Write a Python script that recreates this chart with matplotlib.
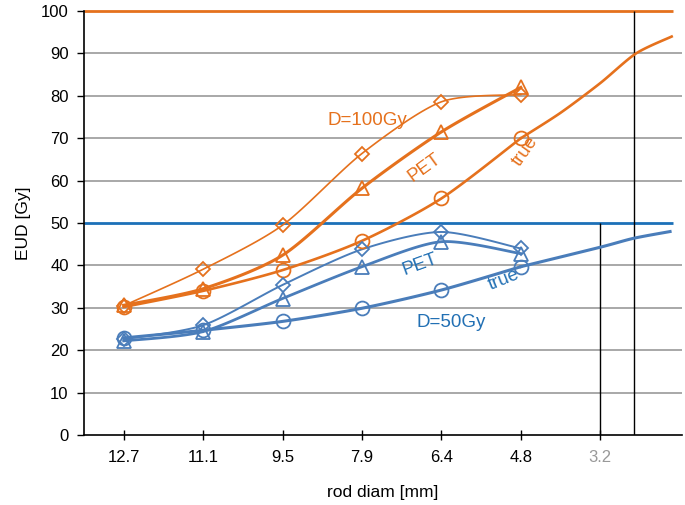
import numpy as np
import matplotlib
matplotlib.use("Agg")
import matplotlib.pyplot as plt

plt.rcParams['font.family'] = ['Liberation Sans', 'DejaVu Sans']

# rod diameters (categories on the x axis)
rods = ["12.7", "11.1", "9.5", "7.9", "6.4", "4.8", "3.2"]
pos = np.arange(6)

# D=100Gy
hi_diamond = [30.5, 39.1, 49.5, 66.4, 78.6, 80.3]
hi_pet = [30.6, 34.5, 42.4, 58.2, 71.5, 82.0]
hi_true = [30.2, 34.0, 38.9, 45.8, 55.8, 70.0]
hi_true_ext_x = [5, 5.5, 6, 6.45, 6.9]
hi_true_ext_y = [70.0, 76.0, 83.0, 90.0, 94.0]

# D=50Gy
lo_diamond = [22.6, 25.9, 35.4, 43.8, 47.9, 44.0]
lo_pet = [22.2, 24.4, 32.2, 39.7, 45.6, 42.8]
lo_true = [22.9, 24.7, 26.8, 29.9, 34.2, 39.7]
lo_true_ext_x = [5, 6, 6.42, 6.88]
lo_true_ext_y = [39.7, 44.3, 46.4, 48.0]

ORANGE = '#E5711D'
BLUE = '#4A7DBA'
BLUE_REF = '#1C70B8'
BLUE_TXT = '#2270B4'


def smooth(xs, ys, n=24, k=7.5):
    # bezier smoothing through the points, like a spreadsheet "smoothed line"
    sx, sy = 79.4, 4.24  # px per unit, so the curve bends like on screen
    P = np.column_stack([np.asarray(xs, float) * sx, np.asarray(ys, float) * sy])
    Pp = np.vstack([P[0], P, P[-1]])
    out = [P[0]]
    t = np.linspace(0, 1, n)[1:, None]
    for i in range(len(P) - 1):
        p0, p3 = Pp[i + 1], Pp[i + 2]
        c1 = p0 + (Pp[i + 2] - Pp[i]) / k
        c2 = p3 - (Pp[i + 3] - Pp[i + 1]) / k
        seg = (1 - t) ** 3 * p0 + 3 * (1 - t) ** 2 * t * c1 + 3 * (1 - t) * t ** 2 * c2 + t ** 3 * p3
        out.extend(seg)
    out = np.array(out)
    return out[:, 0] / sx, out[:, 1] / sy


fig = plt.figure(figsize=(6.85, 5.05), dpi=100)
ax = fig.add_axes([0.1226, 0.1386, 0.873, 0.8394])

# grid and reference lines
for g in range(10, 100, 10):
    if g != 50:
        ax.axhline(g, color='#9a9a9a', lw=1.2, zorder=0)
ax.hlines(100, -0.5, 6.92, color=ORANGE, lw=2, zorder=1, clip_on=False)
ax.hlines(50, -0.5, 6.92, color=BLUE_REF, lw=2, zorder=1)
ax.vlines(6, 0, 50, color='black', lw=1, zorder=1)
ax.vlines(6.42, 0, 100, color='black', lw=1, zorder=1)

series = [
    (hi_diamond, ORANGE, 'D', 1.2, 7),
    (hi_pet, ORANGE, '^', 2.2, 10),
    (hi_true, ORANGE, 'o', 1.9, 10),
    (lo_diamond, BLUE, 'D', 1.4, 7),
    (lo_pet, BLUE, '^', 2.0, 10),
    (lo_true, BLUE, 'o', 2.2, 10),
]
for ys, c, m, lw, ms in series:
    sx_, sy_ = smooth(pos, ys)
    ax.plot(sx_, sy_, color=c, lw=lw, zorder=3)
    ax.plot(pos, ys, linestyle='none', marker=m, ms=ms, mfc='none', mec=c, mew=1.3, zorder=4)

ax.plot(*smooth(hi_true_ext_x, hi_true_ext_y), color=ORANGE, lw=1.9, zorder=3)
ax.plot(*smooth(lo_true_ext_x, lo_true_ext_y), color=BLUE, lw=2.2, zorder=3)

# curve labels
ax.text(3.07, 74.3, 'D=100Gy', color=ORANGE, fontsize=13.5, ha='center', va='center')
ax.text(3.79, 63.0, 'PET', color=ORANGE, fontsize=13.5, ha='center', va='center', rotation=36)
ax.text(5.06, 67.0, 'true', color=ORANGE, fontsize=13.5, ha='center', va='center', rotation=55)
ax.text(3.73, 40.3, 'PET', color=BLUE_TXT, fontsize=13.5, ha='center', va='center', rotation=20)
ax.text(4.79, 36.6, 'true', color=BLUE_TXT, fontsize=13.5, ha='center', va='center', rotation=22)
ax.text(4.13, 26.6, 'D=50Gy', color=BLUE_TXT, fontsize=13.5, ha='center', va='center')

ax.set_xlim(-0.5, 7.03)
ax.set_ylim(0, 100)
ax.set_yticks(range(0, 101, 10))
ax.set_xticks(range(len(rods)))
ax.set_xticklabels(rods)
ax.get_xticklabels()[-1].set_color('#999999')
ax.tick_params(axis='both', labelsize=12, length=5, width=1)
ax.tick_params(axis='x', pad=7, direction='inout', length=7)
ax.tick_params(axis='y', pad=6)
for s in ['top', 'right']:
    ax.spines[s].set_visible(False)
ax.spines['left'].set_linewidth(1.2)
ax.spines['bottom'].set_linewidth(1.2)

ax.set_xlabel('rod diam [mm]', fontsize=12.5, labelpad=15)
ax.set_ylabel('EUD [Gy]', fontsize=12.5, labelpad=7)

fig.savefig('out.png', dpi=100)
